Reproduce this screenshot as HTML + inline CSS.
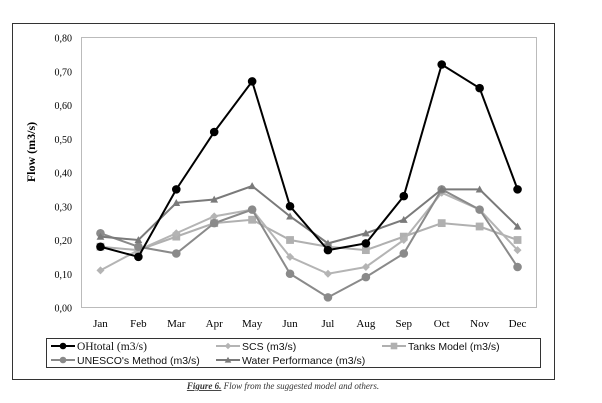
<!DOCTYPE html>
<html><head><meta charset="utf-8"><style>
body{margin:0;background:#fff;width:602px;height:403px;overflow:hidden}
svg{display:block}
</style></head><body>
<svg id="chart" width="602" height="403" xmlns="http://www.w3.org/2000/svg">
<rect x="12.5" y="23.5" width="542" height="356" fill="#fff" stroke="#333" stroke-width="1"/>
<rect x="81.5" y="37.5" width="455" height="270" fill="#fff" stroke="#bbb" stroke-width="1"/>
<text x="35" y="152" transform="rotate(-90 35 152)" text-anchor="middle" font-family="Liberation Serif, serif" font-weight="bold" font-size="12">Flow  (m3/s)</text>
<g id="yticks"></g><g id="xticks"></g><g id="series"></g>
<rect x="46.5" y="338.5" width="494" height="29" fill="#fff" stroke="#333"/>
<g id="legend"></g>
<text x="283" y="389" text-anchor="middle" font-family="Liberation Serif, serif" font-style="italic" font-size="9" fill="#333"><tspan text-decoration="underline" font-weight="bold">Figure 6.</tspan> Flow from the suggested model and others.</text>
</svg>
<script>
const months=["Jan","Feb","Mar","Apr","May","Jun","Jul","Aug","Sep","Oct","Nov","Dec"];
const yTicks=[0,0.1,0.2,0.3,0.4,0.5,0.6,0.7,0.8];
const ohtotal=[0.18,0.15,0.35,0.52,0.67,0.30,0.17,0.19,0.33,0.72,0.65,0.35];
const scs=[0.11,0.17,0.22,0.27,0.29,0.15,0.10,0.12,0.20,0.34,0.29,0.17];
const tanks=[0.18,0.17,0.21,0.25,0.26,0.20,0.18,0.17,0.21,0.25,0.24,0.20];
const unesco=[0.22,0.18,0.16,0.25,0.29,0.10,0.03,0.09,0.16,0.35,0.29,0.12];
const water=[0.21,0.20,0.31,0.32,0.36,0.27,0.19,0.22,0.26,0.35,0.35,0.24];
const NS="http://www.w3.org/2000/svg";
const L=81.5,R=536.5,T=37.5,B=307.5,YMAX=0.8;
const xs=i=>L+(R-L)/months.length*(i+0.5);
const ys=v=>B-(B-T)*v/YMAX;
function mk(tag,attrs,parent){const e=document.createElementNS(NS,tag);for(const k in attrs)e.setAttribute(k,attrs[k]);parent.appendChild(e);return e;}
const yg=document.getElementById('yticks');
yTicks.forEach(v=>{const t=mk('text',{x:72,y:ys(v)+4,'text-anchor':'end','font-family':'Liberation Serif, serif','font-size':'10'},yg);


t.textContent=v.toFixed(2).replace('.',',');});
const xg=document.getElementById('xticks');
months.forEach((m,i)=>{const t=mk('text',{x:xs(i),y:327,'text-anchor':'middle','font-family':'Liberation Serif, serif','font-size':'11'},xg);


t.textContent=m;});
const series=[
{name:'tanks',label:'Tanks Model (m3/s)',data:tanks,color:'#b0b0b0',m:'square'},
{name:'scs',label:'SCS (m3/s)',data:scs,color:'#b4b4b4',m:'diamond'},
{name:'unesco',label:"UNESCO's Method (m3/s)",data:unesco,color:'#8a8a8a',m:'circle'},
{name:'water',label:'Water Performance (m3/s)',data:water,color:'#7a7a7a',m:'triangle'},
{name:'ohtotal',label:'OHtotal (m3/s)',data:ohtotal,color:'#000',m:'circle'}];
function marker(g,type,x,y,c,r){
 if(type==='circle')return mk('circle',{cx:x,cy:y,r:r,fill:c},g);
 if(type==='square')return mk('rect',{x:x-r,y:y-r,width:2*r,height:2*r,fill:c},g);
 if(type==='diamond')return mk('polygon',{points:`${x},${y-r} ${x+r},${y} ${x},${y+r} ${x-r},${y}`,fill:c},g);
 return mk('polygon',{points:`${x},${y-r} ${x+r},${y+r*0.8} ${x-r},${y+r*0.8}`,fill:c},g);
}
const sg=document.getElementById('series');
series.forEach(s=>{
 const g=mk('g',{},sg);
 
 
 const pl=mk('polyline',{points:s.data.map((v,i)=>xs(i)+','+ys(v)).join(' '),fill:'none',stroke:s.color,'stroke-width':2},g);
 
 
 s.data.forEach((v,i)=>{const r=s.m==='circle'?4.3:(s.m==='diamond'?4:3.9);
  const e=marker(g,s.m,xs(i),ys(v),s.color,r);
  
  });
});
const lg=document.getElementById('legend');
const legPos={ohtotal:[51,346],scs:[216,346],tanks:[382,346],unesco:[51,360],water:[216,360]};
series.forEach(s=>{
 const [x,y]=legPos[s.name];
 const g=mk('g',{},lg);
 
 
 mk('line',{x1:x,y1:y,x2:x+24,y2:y,stroke:s.color,'stroke-width':2},g);
 marker(g,s.m,x+12,y,s.color,3.3);
 const t=mk('text',{x:x+26,y:y+4,'font-family':s.name==='ohtotal'?'Liberation Serif, serif':'Liberation Sans, sans-serif','font-size':s.name==='ohtotal'?'11.5':'10.5',fill:'#111'},g);
 t.textContent=s.label;
});
</script>
</body></html>
